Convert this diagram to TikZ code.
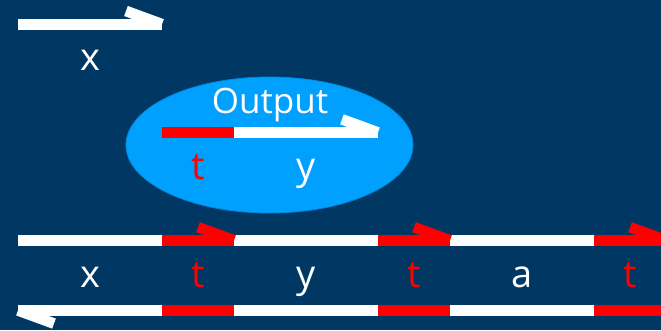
\documentclass[tikz,border=0pt]{standalone}
\usepackage{fontspec}
\setmainfont{Open Sans}
\usetikzlibrary{shapes.geometric,calc}
\definecolor{bg}{RGB}{0,56,99}
\definecolor{ellc}{RGB}{0,160,255}
\definecolor{myred}{RGB}{255,0,0}
\tikzset{
  seg/.style={line width=10.7pt, line cap=butt},
  wseg/.style={seg, draw=white},
  rseg/.style={seg, draw=myred},
  lbl/.style={anchor=base, inner sep=0pt, font=\fontsize{38}{40}\selectfont, text=white},
  rlbl/.style={lbl, text=myred},
}
\begin{document}
\begin{tikzpicture}[x=1pt,y=-1pt]
\fill[bg] (0,0) rectangle (661,330);
\useasboundingbox (0,0) rectangle (661,330);

% top lone strand x
\coordinate (x0) at (18,24.2);
\coordinate (x1) at (162,24.2);
\draw[wseg] (x0) -- (x1);
\draw[wseg] ($(x1)+(-36,-13.2)$) -- (x1);
\node[lbl] (lx) at (90,70.7) {x};

% ellipse output
\node[ellipse, fill=ellc, draw=ellc!85!black, line width=0.8pt, minimum width=287pt, minimum height=136pt, inner sep=0pt] (out) at (269.5,145) {};
\node[lbl, font=\fontsize{35}{38}\selectfont] (lout) at (270,113.3) {Output};
\coordinate (o0) at (162,132.5);
\coordinate (o1) at (234,132.5);
\coordinate (o2) at (378,132.5);
\draw[rseg] (o0) -- (o1);
\draw[wseg] (o1) -- (o2);
\draw[wseg] ($(o2)+(-36,-13.2)$) -- (o2);
\node[rlbl] (ot) at (198,179) {t};
\node[lbl] (oy) at (306,179) {y};

% bottom double strand, upper
\coordinate (u0) at (18,240.4);
\coordinate (u1) at (162,240.4);
\coordinate (u2) at (234,240.4);
\coordinate (u3) at (378,240.4);
\coordinate (u4) at (450,240.4);
\coordinate (u5) at (594,240.4);
\coordinate (u6) at (666,240.4);
\draw[wseg] (u0) -- (u1);
\draw[rseg] (u1) -- (u2);
\draw[wseg] (u2) -- (u3);
\draw[rseg] (u3) -- (u4);
\draw[wseg] (u4) -- (u5);
\draw[rseg] (u5) -- (u6);
\draw[rseg] ($(u2)+(-36,-13.2)$) -- (u2);
\draw[rseg] ($(u4)+(-36,-13.2)$) -- (u4);
\draw[rseg] ($(u6)+(-36,-13.2)$) -- (u6);

% lower
\coordinate (d0) at (18,310.4);
\coordinate (d1) at (162,310.4);
\coordinate (d2) at (234,310.4);
\coordinate (d3) at (378,310.4);
\coordinate (d4) at (450,310.4);
\coordinate (d5) at (594,310.4);
\coordinate (d6) at (666,310.4);
\draw[wseg] (d0) -- (d1);
\draw[rseg] (d1) -- (d2);
\draw[wseg] (d2) -- (d3);
\draw[rseg] (d3) -- (d4);
\draw[wseg] (d4) -- (d5);
\draw[rseg] (d5) -- (d6);
\draw[wseg] ($(d0)+(36,13.2)$) -- (d0);

% labels
\node[lbl] (b1) at (90,287.3) {x};
\node[rlbl] (b2) at (198,287.3) {t};
\node[lbl] (b3) at (306,287.3) {y};
\node[rlbl] (b4) at (414,287.3) {t};
\node[lbl] (b5) at (522,287.3) {a};
\node[rlbl] (b6) at (630,287.3) {t};
\end{tikzpicture}
\end{document}
